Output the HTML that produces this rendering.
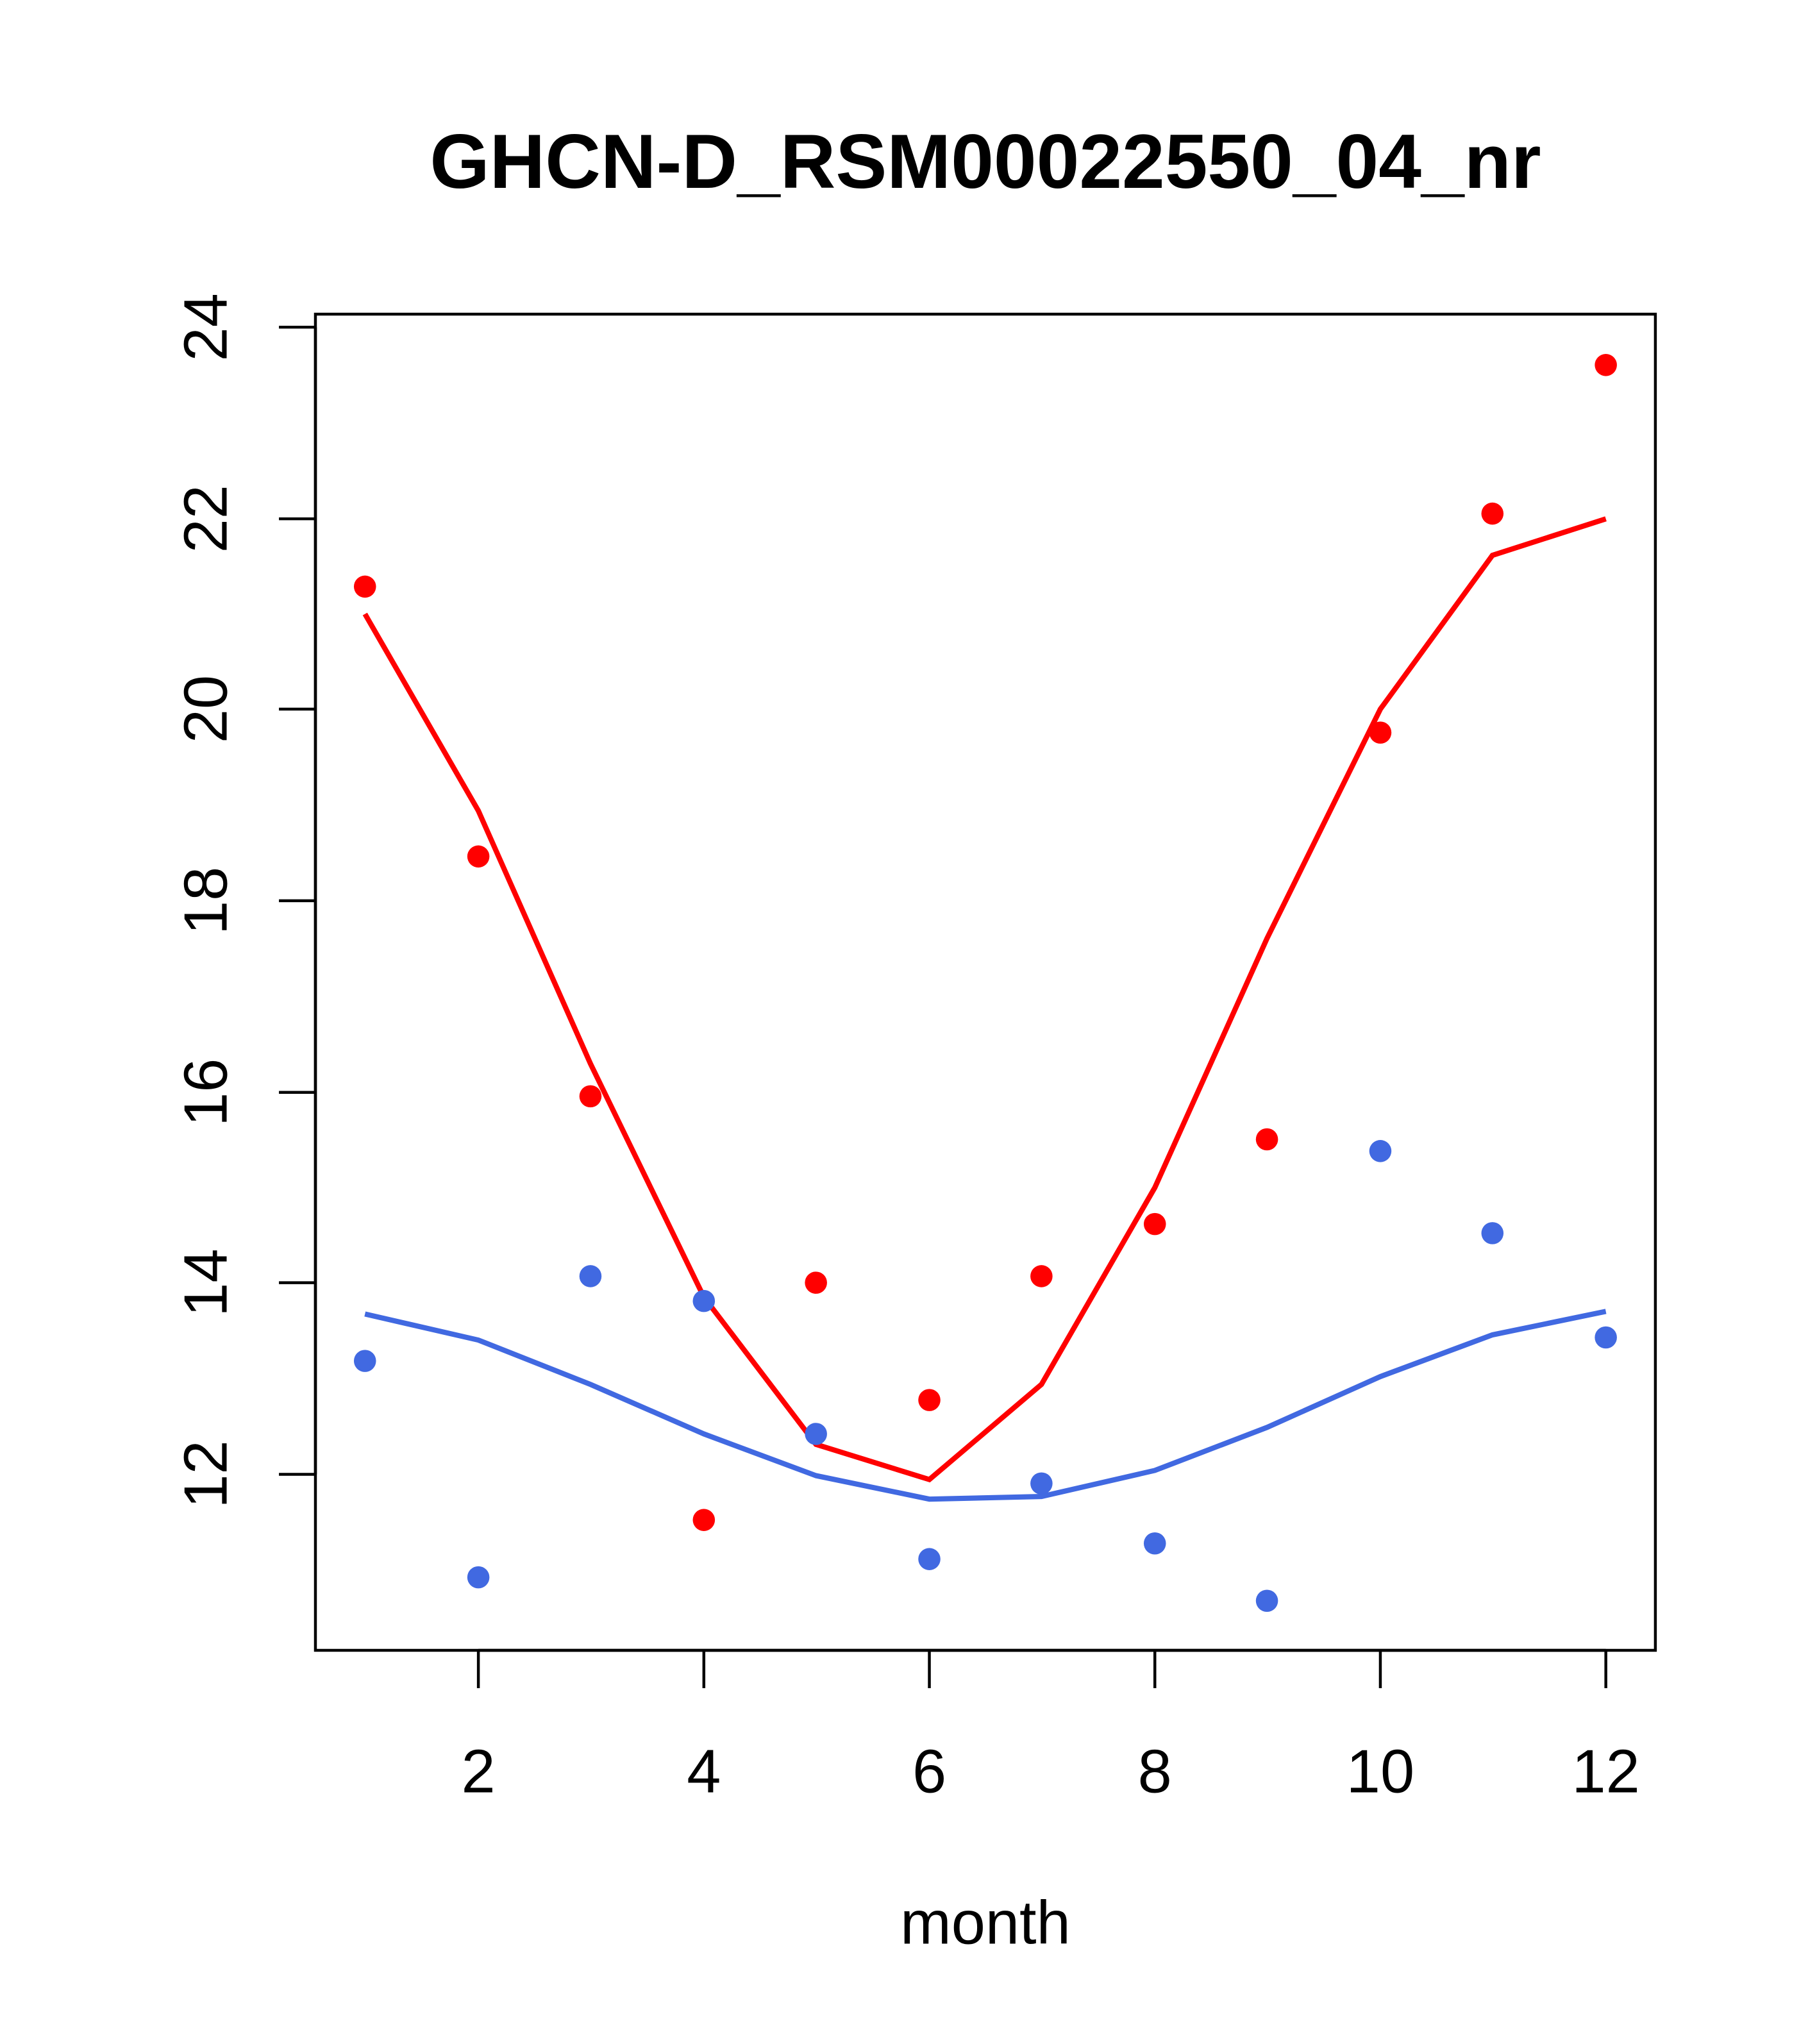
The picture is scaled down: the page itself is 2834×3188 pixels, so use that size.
<!DOCTYPE html>
<html><head><style>html,body{margin:0;padding:0;background:#fff}svg{display:block}</style></head>
<body>
<svg width="2834" height="3188" viewBox="0 0 1394 1568" preserveAspectRatio="none" xmlns="http://www.w3.org/2000/svg" font-family="Liberation Sans, sans-serif">
<rect width="1394" height="1568" fill="#fff"/>
<text x="756" y="144" font-size="59" font-weight="bold" text-anchor="middle">GHCN-D_RSM00022550_04_nr</text>
<rect x="242" y="241" width="1028" height="1025" fill="none" stroke="#000" stroke-width="2.2"/>
<g stroke="#000" stroke-width="2.2">
<line x1="367" y1="1266" x2="1232" y2="1266"/>
<line x1="367" y1="1266" x2="367" y2="1295"/><line x1="540" y1="1266" x2="540" y2="1295"/>
<line x1="713" y1="1266" x2="713" y2="1295"/><line x1="886" y1="1266" x2="886" y2="1295"/>
<line x1="1059" y1="1266" x2="1059" y2="1295"/><line x1="1232" y1="1266" x2="1232" y2="1295"/>
<line x1="242" y1="251" x2="242" y2="1131"/>
<line x1="214" y1="1131" x2="242" y2="1131"/><line x1="214" y1="984" x2="242" y2="984"/>
<line x1="214" y1="838" x2="242" y2="838"/><line x1="214" y1="691" x2="242" y2="691"/>
<line x1="214" y1="544" x2="242" y2="544"/><line x1="214" y1="398" x2="242" y2="398"/>
<line x1="214" y1="251" x2="242" y2="251"/>
</g>
<g font-size="47" text-anchor="middle">
<text x="367" y="1375">2</text><text x="540" y="1375">4</text><text x="713" y="1375">6</text>
<text x="886" y="1375">8</text><text x="1059" y="1375">10</text><text x="1232" y="1375">12</text>
<text x="756" y="1491">month</text>
<g transform="translate(174,0)">
<text transform="translate(0,1131) rotate(-90)">12</text>
<text transform="translate(0,984) rotate(-90)">14</text>
<text transform="translate(0,838) rotate(-90)">16</text>
<text transform="translate(0,691) rotate(-90)">18</text>
<text transform="translate(0,544) rotate(-90)">20</text>
<text transform="translate(0,398) rotate(-90)">22</text>
<text transform="translate(0,251) rotate(-90)">24</text>
</g>
</g>
<polyline fill="none" stroke="#ff0000" stroke-width="4" points="280,471 367,622 453,816 540,995 626,1108 713,1135 799,1062 886,911 972,720 1059,544 1145,426 1232,398"/>
<polyline fill="none" stroke="#4169e1" stroke-width="4" points="280,1008 367,1028 453,1062 540,1100 626,1132 713,1150 799,1148 886,1128 972,1095 1059,1056 1145,1024 1232,1006"/>
<g fill="#ff0000">
<circle cx="280" cy="450" r="8.5"/><circle cx="367" cy="657" r="8.5"/><circle cx="453" cy="841" r="8.5"/>
<circle cx="540" cy="1166" r="8.5"/><circle cx="626" cy="984" r="8.5"/><circle cx="713" cy="1074" r="8.5"/>
<circle cx="799" cy="979" r="8.5"/><circle cx="886" cy="939" r="8.5"/><circle cx="972" cy="874" r="8.5"/>
<circle cx="1059" cy="562" r="8.5"/><circle cx="1145" cy="394" r="8.5"/><circle cx="1232" cy="280" r="8.5"/>
</g>
<g fill="#4169e1">
<circle cx="280" cy="1044" r="8.5"/><circle cx="367" cy="1210" r="8.5"/><circle cx="453" cy="979" r="8.5"/>
<circle cx="540" cy="998" r="8.5"/><circle cx="626" cy="1100" r="8.5"/><circle cx="713" cy="1196" r="8.5"/>
<circle cx="799" cy="1138" r="8.5"/><circle cx="886" cy="1184" r="8.5"/><circle cx="972" cy="1228" r="8.5"/>
<circle cx="1059" cy="883" r="8.5"/><circle cx="1145" cy="946" r="8.5"/><circle cx="1232" cy="1026" r="8.5"/>
</g>
</svg>
</body></html>
